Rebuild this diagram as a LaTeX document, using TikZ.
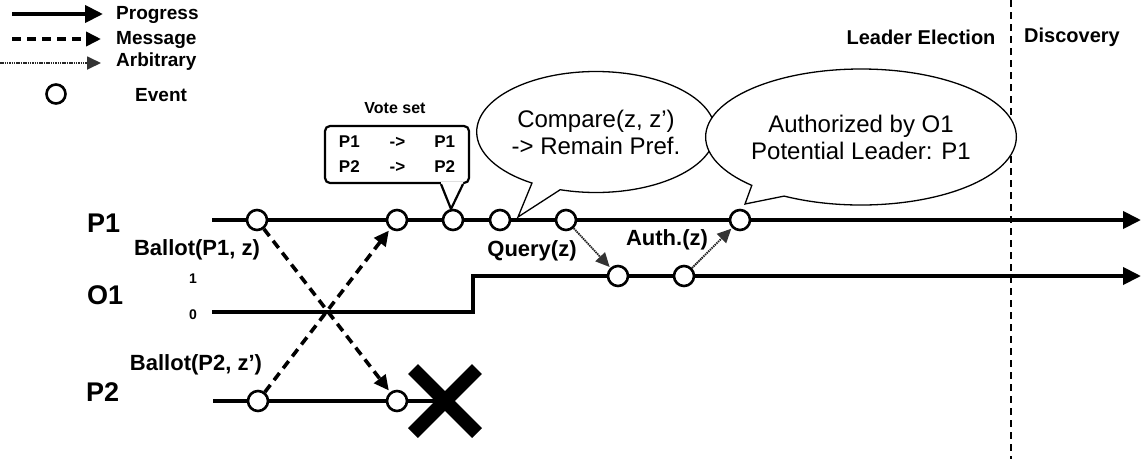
\documentclass[tikz,border=0pt]{standalone}
\usepackage{fontspec}
\setmainfont{Liberation Sans}
\usetikzlibrary{arrows.meta,shapes.callouts,calc}
\newcommand{\fsz}[1]{\fontsize{#1}{#1}\selectfont}

\begin{document}
\begin{tikzpicture}[x=1pt,y=-1pt,
  ev/.style={circle,draw,fill=white,line width=2.6pt,minimum size=20pt,inner sep=0pt},
  prog/.style={line width=4pt,-{Triangle[length=18pt,width=17pt]}},
  msg/.style={line width=3.6pt,dash pattern=on 9pt off 6pt,-{Triangle[length=15pt,width=14pt]}},
  arb/.style={line width=1.8pt,draw=black!85,dash pattern=on 1.5pt off 0.8pt,
    -{Triangle[length=14pt,width=13pt,color=black!80]}},
  lbl/.style={font=\bfseries\fsz{22},inner sep=0pt},
  proc/.style={font=\bfseries\fsz{27},inner sep=0pt,anchor=west},
  legtxt/.style={font=\bfseries\fsz{19},inner sep=0pt,anchor=west},
  bubble/.style={ellipse callout,draw,line width=1.3pt,fill=white,align=center,
    font=\fontsize{24}{27}\selectfont,inner sep=0pt},
  phase/.style={font=\bfseries\fsz{20},inner sep=0pt}
]
\useasboundingbox (0,0) rectangle (1143,459);

% ---------- legend ----------
\coordinate (lg1s) at (12,14);  \coordinate (lg1e) at (103,14);
\coordinate (lg2s) at (12,39);  \coordinate (lg2e) at (101,39);
\coordinate (lg3s) at (0,63);   \coordinate (lg3e) at (101,63);
\draw[prog] (lg1s) -- (lg1e);
\draw[msg] (lg2s) -- (lg2e);
\draw[arb] (lg3s) -- (lg3e);
\node[ev,minimum size=19pt] (lgev) at (56,94) {};
\node[legtxt] (lgt1) at (116,15) {Progress};
\node[legtxt] (lgt2) at (116,40) {Message};
\node[legtxt] (lgt3) at (116,62) {Arbitrary};
\node[legtxt] (lgt4) at (135,95) {Event};

% ---------- phase boundary ----------
\coordinate (bdt) at (1011,0);
\coordinate (bdb) at (1011,459);
\draw[line width=2.8pt,dash pattern=on 7pt off 5pt] (bdt) -- (bdb);
\node[phase] (le) at (921,37) {Leader Election};
\node[phase] (disc) at (1072,37) {Discovery};

% ---------- process labels ----------
\node[proc] (p1lab) at (87,223) {P1};
\node[proc] (o1lab) at (87,295) {O1};
\node[proc] (p2lab) at (86,392) {P2};
\node[font=\bfseries\fsz{14},inner sep=0pt] (one) at (193,279) {1};
\node[font=\bfseries\fsz{14},inner sep=0pt] (zero) at (193,315) {0};

% ---------- time lines ----------
\coordinate (p1s) at (212,220); \coordinate (p1e) at (1141,220);
\draw[prog] (p1s) -- (p1e);
\coordinate (o1s) at (212,312); \coordinate (o1a) at (473,312);
\coordinate (o1b) at (473,276); \coordinate (o1e) at (1141,276);
\draw[prog,line join=miter] (o1s) -- (o1a) -- (o1b) -- (o1e);
\coordinate (p2s) at (213,401); \coordinate (kill) at (445,401);
\draw[line width=4pt] (p2s) -- (kill);

% crash of P2
\draw[line width=14pt] ($(kill)+(-32,-32)$) -- ($(kill)+(32,32)$);
\draw[line width=14pt] ($(kill)+(-32,32)$) -- ($(kill)+(32,-32)$);

% ---------- events ----------
\node[ev] (a1) at (257,220) {};
\node[ev] (a2) at (397,220) {};
\node[ev] (a3) at (453,220) {};
\node[ev] (a4) at (500,220) {};
\node[ev] (a5) at (566,220) {};
\node[ev] (a6) at (740,220) {};
\node[ev] (o1) at (618,276) {};
\node[ev] (o2) at (684,276) {};
\node[ev] (b1) at (258,401) {};
\node[ev] (b2) at (397,401) {};

% ---------- messages ----------
\draw[msg,shorten >=2pt] (a1) -- (b2);
\draw[msg,shorten >=2pt] (b1) -- (a2);
\draw[arb,shorten >=1pt] (a5) -- (o1);
\draw[arb,shorten >=1pt] (o2) -- (a6);

\node[lbl] (bal1) at (197,250) {Ballot(P1, z)};
\node[lbl] (bal2) at (196,365) {Ballot(P2, z’)};
\node[lbl] (qry) at (532,251) {Query(z)};
\node[lbl] (auth) at (667,240) {Auth.(z)};

% ---------- vote set box ----------
\node[font=\bfseries\fsz{16},inner sep=0pt] (vslab) at (395,108) {Vote set};
\node[draw,rounded corners=5pt,line width=2.2pt,fill=white,
      minimum width=144pt,minimum height=57pt,inner sep=0pt,
      font=\bfseries\fontsize{17}{25}\selectfont] (vs) at (397,154.5)
  {\begin{tabular}{@{}l@{\hspace{30pt}}c@{\hspace{29pt}}r@{}}
    P1 & -> & P1\\
    P2 & -> & P2
  \end{tabular}};
\coordinate (vb1) at ($(vs.south)+(44,0)$);
\coordinate (vb2) at ($(vs.south)+(66,0)$);
\coordinate (vtip) at (451,209);
\fill[white] ($(vb1)+(0,-2)$) -- (vb1) -- (vtip) -- (vb2) -- ($(vb2)+(0,-2)$) -- cycle;
\draw[line width=2.2pt,line join=round] (vb1) -- (vtip) -- (vb2);

% ---------- speech bubbles ----------
\coordinate (cmptip) at (518,217);
\node[bubble,minimum width=238pt,minimum height=121pt,
      callout absolute pointer={(cmptip)}] (cmp) at (596,132)
  {Compare(z, z’)\\-> Remain Pref.};
\coordinate (auttip) at (745,204);
\node[bubble,minimum width=280pt,minimum height=136pt,
      callout absolute pointer={(auttip)}] (aut) at (861,137)
  {Authorized by O1\\Potential Leader: P1};
\end{tikzpicture}
\end{document}
